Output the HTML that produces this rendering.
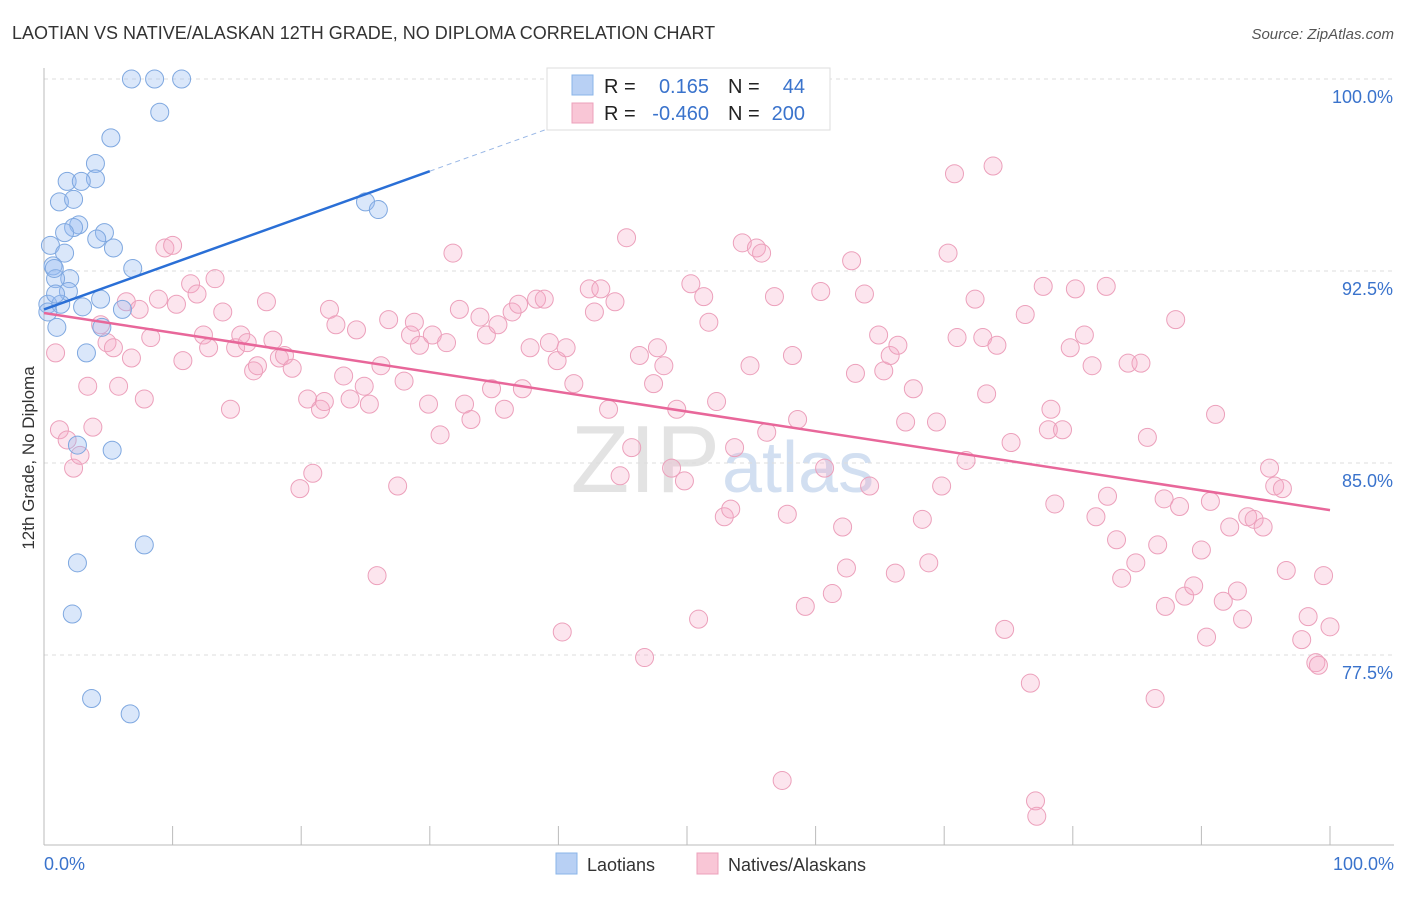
<!DOCTYPE html>
<html><head><meta charset="utf-8"><style>
body{margin:0;background:#fff;font-family:"Liberation Sans",sans-serif;}
svg text{font-family:"Liberation Sans",sans-serif;}
</style></head><body>
<svg id="chart" width="1406" height="892" xmlns="http://www.w3.org/2000/svg">
<text x="12" y="39" font-size="18" fill="#333">LAOTIAN VS NATIVE/ALASKAN 12TH GRADE, NO DIPLOMA CORRELATION CHART</text>
<text x="1394" y="39" font-size="15" fill="#555" text-anchor="end" font-style="italic">Source: ZipAtlas.com</text>
<text transform="translate(34,458) rotate(-90)" font-size="17" fill="#333" text-anchor="middle">12th Grade, No Diploma</text>
<g><text x="720" y="492" font-size="96" font-family="Liberation Serif" fill="#ddd" text-anchor="end" opacity="0.8">ZIP</text><text x="722" y="492" font-size="72" fill="#c8d8ee" opacity="0.8">atlas</text></g>
<g id="grid"></g><g id="axes"></g><g id="pts"></g><g id="lines"></g>
<g>
<rect x="547" y="68" width="283" height="62" fill="#fff" stroke="#ddd"/>
<rect x="572" y="75" width="21" height="20" fill="#b8d0f4" stroke="#8ab4e8"/>
<rect x="572" y="103" width="21" height="20" fill="#f9c6d6" stroke="#eca0bb"/>
<text x="604" y="93" font-size="20" fill="#222">R =</text><text x="709" y="93" font-size="20" fill="#3a73cc" text-anchor="end">0.165</text>
<text x="728" y="93" font-size="20" fill="#222">N =</text><text x="805" y="93" font-size="20" fill="#3a73cc" text-anchor="end">44</text>
<text x="604" y="120" font-size="20" fill="#222">R =</text><text x="709" y="120" font-size="20" fill="#3a73cc" text-anchor="end">-0.460</text>
<text x="728" y="120" font-size="20" fill="#222">N =</text><text x="805" y="120" font-size="20" fill="#3a73cc" text-anchor="end">200</text>
</g>
<g>
<rect x="556" y="853" width="21" height="21" fill="#b8d0f4" stroke="#8ab4e8"/><text x="587" y="871" font-size="18" fill="#333">Laotians</text>
<rect x="697" y="853" width="21" height="21" fill="#f9c6d6" stroke="#eca0bb"/><text x="728" y="871" font-size="18" fill="#333">Natives/Alaskans</text>
</g>
</svg>
<script>
const yTicks=[100,92.5,85,77.5];
const yTickLabels=["100.0%","92.5%","85.0%","77.5%"];
const blueX=[6.8,8.6,10.7,9.0,5.2,4.0,4.0,1.8,2.9,1.2,2.3,2.7,2.3,1.6,4.7,4.1,5.4,0.5,1.6,0.7,6.9,2.0,0.9,1.9,4.4,0.3,1.3,3.0,6.1,1.0,4.5,3.3,5.3,2.6,7.8,2.6,2.2,3.7,6.7,25.0,26.0,0.8,0.3,0.9];
const blueY=[100,100,100,98.7,97.7,96.7,96.1,96.0,96.0,95.2,95.3,94.3,94.2,94.0,94.0,93.75,93.4,93.5,93.2,92.7,92.6,92.2,92.2,91.7,91.4,91.2,91.2,91.1,91.0,90.3,90.3,89.3,85.5,85.7,81.8,81.1,79.1,75.8,75.2,95.2,94.9,92.6,90.9,91.6];
const pinkX=[60.1,0.9,1.2,1.8,2.3,2.8,3.4,3.8,4.4,4.9,5.4,5.8,6.4,6.8,7.4,7.8,8.3,8.9,9.4,10.0,10.3,10.8,11.4,11.9,12.4,12.8,13.3,13.9,14.5,14.9,15.3,15.8,16.3,16.6,17.3,17.8,18.3,18.7,19.3,19.9,20.5,20.9,21.5,21.8,22.2,22.7,23.3,23.8,24.3,24.9,25.3,25.9,26.2,26.8,27.5,28.0,28.5,28.8,29.2,29.9,30.2,30.8,31.3,31.8,32.3,32.7,33.2,33.9,34.4,34.8,35.3,35.8,36.4,36.9,37.2,37.8,38.3,38.9,39.3,39.9,40.3,40.6,41.2,42.4,42.8,43.3,43.9,44.4,44.8,45.3,45.7,46.3,46.7,47.4,47.7,48.2,48.8,49.2,49.8,50.3,50.9,51.3,51.7,52.3,52.9,53.4,53.7,54.3,54.9,55.4,55.8,56.2,56.8,57.4,57.8,58.2,58.6,59.2,60.4,60.7,61.3,62.1,62.4,62.8,63.1,63.8,64.2,64.9,65.3,65.8,66.2,66.4,67.0,67.6,68.3,68.8,69.4,69.8,70.3,70.8,71.0,71.7,72.4,73.0,73.3,73.8,74.1,74.7,75.2,76.3,76.7,77.1,77.2,77.7,78.1,78.3,78.6,79.2,79.8,80.2,80.9,81.5,81.8,82.6,82.7,83.4,83.8,84.3,84.9,85.3,85.8,86.4,86.6,87.1,88.0,88.3,88.7,89.4,90.0,90.4,90.7,91.1,91.7,92.2,92.8,93.2,93.6,94.1,94.8,95.3,95.7,96.3,96.6,97.8,98.3,98.9,99.1,99.5,100.0,87.2];
const pinkY=[98.8,89.3,86.3,85.9,84.8,85.3,88.0,86.4,90.4,89.7,89.5,88.0,91.3,89.1,91.0,87.5,89.9,91.4,93.4,93.5,91.2,89.0,92.0,91.6,90.0,89.5,92.2,90.9,87.1,89.5,90.0,89.7,88.6,88.8,91.3,89.8,89.1,89.2,88.7,84.0,87.5,84.6,87.1,87.4,91.0,90.4,88.4,87.5,90.2,88.0,87.3,80.6,88.8,90.6,84.1,88.2,90.0,90.5,89.6,87.3,90.0,86.1,89.7,93.2,91.0,87.3,86.7,90.7,90.0,87.9,90.4,87.1,90.9,91.2,87.9,89.5,91.4,91.4,89.7,89.0,78.4,89.5,88.1,91.8,90.9,91.8,87.1,91.3,84.5,93.8,85.6,89.2,77.4,88.1,89.5,88.8,84.8,87.1,84.3,92.0,78.9,91.5,90.5,87.4,82.9,83.2,85.6,93.6,88.8,93.4,93.2,86.2,91.5,72.6,83.0,89.2,86.7,79.4,91.7,84.8,79.9,82.5,80.9,92.9,88.5,91.6,84.1,90.0,88.6,89.2,80.7,89.6,86.6,87.9,82.8,81.1,86.6,84.1,93.2,96.3,89.9,85.1,91.4,89.9,87.7,96.6,89.6,78.5,85.8,90.8,76.4,71.8,71.2,91.9,86.3,87.1,83.4,86.3,89.5,91.8,90.0,88.8,82.9,91.9,83.7,82.0,80.5,88.9,81.1,88.9,86.0,75.8,81.8,83.6,90.6,83.3,79.8,80.2,81.6,78.2,83.5,86.9,79.6,82.5,80.0,78.9,82.9,82.8,82.5,84.8,84.1,84.0,80.8,78.1,79.0,77.2,77.1,80.6,78.6,79.4];
const blueFit=[91.0,96.4];   // value at x=0 and x=30
const pinkFit=[90.86,83.16]; // value at x=0 and x=100
const NS="http://www.w3.org/2000/svg";
const X=v=>44+v*12.86;
const Y=v=>79+(100-v)*25.6;
function mk(tag,attrs,parent){const e=document.createElementNS(NS,tag);for(const k in attrs)e.setAttribute(k,attrs[k]);parent.appendChild(e);return e;}
const grid=document.getElementById('grid'),axes=document.getElementById('axes'),pts=document.getElementById('pts'),lines=document.getElementById('lines');
yTicks.forEach((t,i)=>{
  const l=mk('line',{x1:44,x2:1394,y1:Y(t),y2:Y(t),stroke:'#ddd','stroke-dasharray':'4,4'},grid);
  
  
  const tx=mk('text',{x:1393,y:Y(t)+24,'font-size':18,fill:'#3a73cc','text-anchor':'end'},axes);
  tx.textContent=yTickLabels[i];
  
  
});
const xa=mk('line',{x1:44,x2:1394,y1:845,y2:845,stroke:'#bbb'},axes);


const ya=mk('line',{x1:44,x2:44,y1:68,y2:845,stroke:'#bbb'},axes);


for(let i=0;i<=10;i++){
  const t=mk('line',{x1:X(i*10),x2:X(i*10),y1:826,y2:845,stroke:'#bbb'},axes);
  
  
}
const xl0=mk('text',{x:44,y:870,'font-size':18,fill:'#3a73cc'},axes);xl0.textContent='0.0%';


const xl1=mk('text',{x:1394,y:870,'font-size':18,fill:'#3a73cc','text-anchor':'end'},axes);xl1.textContent='100.0%';


pinkX.forEach((v,i)=>{
  const c=mk('circle',{cx:X(v),cy:Y(pinkY[i]),r:9,fill:'rgba(245,170,198,0.3)',stroke:'#eca0bb','stroke-width':1},pts);
  
  
});
blueX.forEach((v,i)=>{
  const c=mk('circle',{cx:X(v),cy:Y(blueY[i]),r:9,fill:'rgba(150,185,240,0.35)',stroke:'#7fa8e0','stroke-width':1},pts);
  
  
});
const slope=(blueFit[1]-blueFit[0])/30;
const bl=mk('line',{x1:X(0),y1:Y(blueFit[0]),x2:X(30),y2:Y(blueFit[1]),stroke:'#2a6fd6','stroke-width':2.5},lines);


const bd=mk('line',{x1:X(30),y1:Y(blueFit[1]),x2:X(45),y2:Y(blueFit[0]+slope*45),stroke:'#9ab8e6','stroke-width':1,'stroke-dasharray':'5,4'},lines);


const pl=mk('line',{x1:X(0),y1:Y(pinkFit[0]),x2:X(100),y2:Y(pinkFit[1]),stroke:'#e8679a','stroke-width':2.5},lines);


</script>
</body></html>
